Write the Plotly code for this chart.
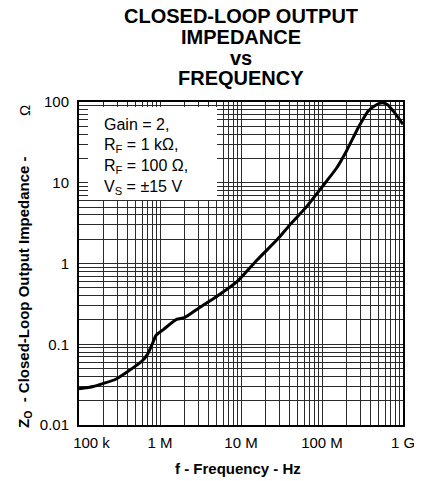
import plotly.graph_objects as go

# data
FREQ_HZ = [1e5, 1.5e5, 2e5, 2.8e5, 4e5, 6e5, 7e5, 8e5, 9e5, 1.1e6, 1.6e6, 2e6, 3e6,
           5e6, 9e6, 1.6e7, 2.8e7, 4e7, 6.5e7, 1.1e8, 1.5e8, 2e8, 2.8e8, 3.7e8,
           4.6e8, 5.5e8, 6.5e8, 7.6e8, 1e9]
Z_OHM = [0.028, 0.030, 0.0327, 0.0366, 0.046, 0.062, 0.075, 0.100, 0.130, 0.152,
         0.203, 0.213, 0.28, 0.39, 0.60, 1.12, 1.98, 3.0, 5.1, 10.0, 15.0, 24.6,
         48.0, 77.0, 91.0, 98.0, 92.0, 77.0, 53.0]

X_TICKS = [1e5, 1e6, 1e7, 1e8, 1e9]
X_TICK_TEXT = ["\u2007\u2007\u2007100 k", "1 M", "10 M", "100 M", "1 G"]
Y_TICKS = [0.01, 0.1, 1, 10, 100]
Y_TICK_TEXT = ["0.01", "0.1", "1", "10", "100"]

TITLE_LINES = ["CLOSED-LOOP OUTPUT", "IMPEDANCE", "vs", "FREQUENCY"]
NOTE_LINES = ["Gain = 2,", "R<sub>F</sub> = 1 k\u03a9,", "R<sub>F</sub> = 100 \u03a9,",
              "V<sub>S</sub> = \u00b115 V"]

FONT = "Arial, Liberation Sans, sans-serif"
# the page body adds an 8px margin, so the figure is 8px smaller than the window
OFF = 8
W, H = 422 - OFF, 481 - OFF
L, R, T, B = 79 - OFF, 19, 102 - OFF, 56
PW, PH = W - L - R, H - T - B


def px_x(px):
    return (px - OFF - L) / PW


def px_y(py):
    return (H - B - (py - OFF)) / PH


x_minor = [m * 10 ** e for e in range(5, 9) for m in range(2, 10)]
y_minor = [m * 10.0 ** e for e in range(-2, 2) for m in range(2, 10)]

fig = go.Figure()
fig.add_trace(go.Scatter(x=FREQ_HZ, y=Z_OHM, mode="lines",
                         line=dict(color="black", width=3, shape="spline", smoothing=0.6),
                         showlegend=False))

grid = dict(showgrid=True, gridcolor="#2a2a2a", gridwidth=1)
fig.update_xaxes(type="log", range=[5, 9], tickvals=X_TICKS, ticktext=X_TICK_TEXT,
                 ticks="", ticklabelstandoff=3, showline=True, linecolor="black",
                 linewidth=2, mirror=True, zeroline=False, automargin=False,
                 minor=dict(tickvals=x_minor, ticks="", **grid), **grid)
fig.update_yaxes(type="log", range=[-2, 2], tickvals=Y_TICKS, ticktext=Y_TICK_TEXT,
                 ticks="", ticklabelstandoff=5, showline=True, linecolor="black",
                 linewidth=2, mirror=True, zeroline=False, automargin=False,
                 minor=dict(tickvals=y_minor, ticks="", **grid), **grid)

# white box behind the test conditions
fig.add_shape(type="rect", xref="paper", yref="paper", layer="above",
              x0=px_x(88), x1=px_x(217), y0=px_y(200), y1=px_y(107),
              fillcolor="white", line=dict(width=0))

anns = []
for text, yc in zip(TITLE_LINES, [16, 37, 58, 78]):
    anns.append(dict(text=f"<b>{text}</b>", x=px_x(241), y=px_y(yc),
                     xanchor="center", yanchor="middle",
                     font=dict(size=20)))
for text, yc in zip(NOTE_LINES, [124, 145, 166, 187]):
    anns.append(dict(text=text, x=px_x(102), y=px_y(yc),
                     xanchor="left", yanchor="middle", font=dict(size=16)))
anns.append(dict(text="<b>f - Frequency - Hz</b>", x=px_x(238), y=px_y(468),
                 xanchor="center", yanchor="middle", font=dict(size=15)))
anns.append(dict(text="<b>Z<sub>O</sub>  - Closed-Loop Output Impedance -</b>",
                 x=px_x(24), y=px_y(292), xanchor="center", yanchor="middle",
                 textangle=-90, font=dict(size=15)))
anns.append(dict(text="\u03a9", x=px_x(24), y=px_y(111), xanchor="center",
                 yanchor="middle", textangle=-90, font=dict(size=15)))
for a in anns:
    a.update(xref="paper", yref="paper", showarrow=False)
    a["font"].update(color="black", family=FONT)

fig.update_layout(width=W, height=H, margin=dict(l=L, r=R, t=T, b=B),
                  paper_bgcolor="white", plot_bgcolor="white",
                  font=dict(family=FONT, size=15, color="black"),
                  annotations=anns)

fig.write_html("out.html")
